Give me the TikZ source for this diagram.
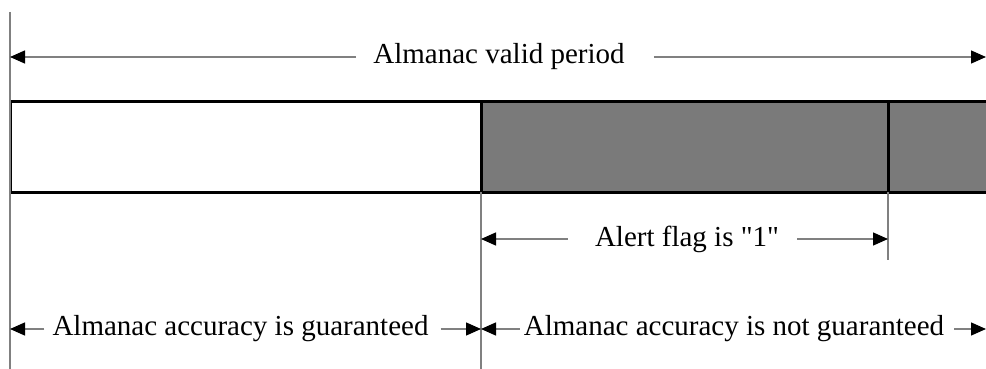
\documentclass[tikz,border=0pt]{standalone}
\usepackage{fontspec}
\setmainfont{Liberation Serif}[Ligatures=TeXOff]
\usetikzlibrary{arrows.meta}
\definecolor{lgray}{RGB}{128,128,128}
\definecolor{shadegray}{RGB}{122,122,122}
\begin{document}
\begin{tikzpicture}[x=1pt,y=-1pt,
  arr/.style={draw=lgray, line width=1.4pt, -{Triangle[length=15pt,width=13pt,color=black]}},
  guide/.style={draw=lgray, line width=1.4pt},
  bar/.style={draw=black, line width=3pt},
  lbl/.style={font=\fontsize{29}{34}\selectfont, inner sep=0pt}]
\useasboundingbox (0,0) rectangle (986,369);
% bar
\fill[shadegray] (481,102) rectangle (1000,192);
\draw[bar] (1000,102) -- (10,102) -- (10,192) -- (1000,192);
\draw[bar] (481,102) -- (481,192);
\draw[bar] (888,102) -- (888,192);
% guide lines
\coordinate (g0t) at (10,12);
\coordinate (g0b) at (10,369);
\coordinate (g1t) at (481,192);
\coordinate (g1b) at (481,369);
\coordinate (g2t) at (888,192);
\coordinate (g2b) at (888,260);
\draw[guide] (g0t) -- (g0b);
\draw[guide] (g1t) -- (g1b);
\draw[guide] (g2t) -- (g2b);
% top dimension
\node[lbl] (top) at (499,57) {Almanac valid period};
\coordinate (tl) at (10,57);
\coordinate (tr) at (986,57);
\draw[arr] ([xshift=-17pt]top.west) -- (tl);
\draw[arr] ([xshift=29pt]top.east) -- (tr);
% alert dimension
\node[lbl] (alert) at (687,239) {Alert flag is "1"};
\coordinate (al) at (481,239);
\coordinate (ar) at (888,239);
\draw[arr] ([xshift=-27pt]alert.west) -- (al);
\draw[arr] ([xshift=18pt]alert.east) -- (ar);
% bottom dimensions
\node[lbl] (good) at (240.5,329) {Almanac accuracy is guaranteed};
\coordinate (bl) at (10,329);
\coordinate (bm) at (481,329);
\coordinate (br) at (986,329);
\draw[arr] ([xshift=-8pt]good.west) -- (bl);
\draw[arr] ([xshift=12pt]good.east) -- (bm);
\node[lbl] (bad) at (734,329) {Almanac accuracy is not guaranteed};
\draw[arr] ([xshift=-4pt]bad.west) -- (bm);
\draw[arr] ([xshift=10pt]bad.east) -- (br);
\end{tikzpicture}
\end{document}
